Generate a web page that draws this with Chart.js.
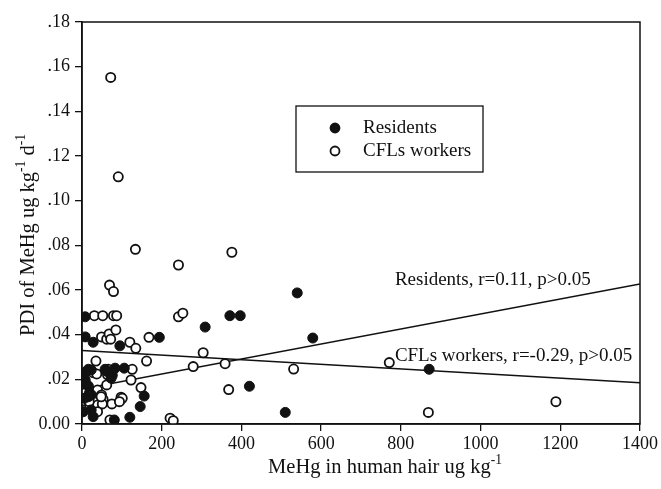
<!DOCTYPE html>
<html>
<head>
<meta charset="utf-8">
<script src="https://cdn.jsdelivr.net/npm/chart.js@4.4.1/dist/chart.umd.min.js"></script>
<style>
  html, body { margin: 0; padding: 0; background: #fff; }
  #wrap { width: 661px; height: 489px; position: relative; }
</style>
</head>
<body>
<div id="wrap"><canvas id="chart" width="661" height="489"></canvas></div>
<script>
// MeHg in hair (ug/kg) and PDI (ug/kg/d)
const residentsHair = [8, 8, 28, 95, 194, 309, 371, 397, 540, 579, 420, 510, 871, 16, 23, 58, 64, 76, 83, 106,
  10, 8, 16, 73, 10, 18, 16, 24, 6, 3, 23, 28, 81, 120, 146, 156];
const residentsPdi = [0.048, 0.039, 0.0366, 0.035, 0.0388, 0.0434, 0.0485, 0.0485, 0.0587, 0.0385, 0.0169, 0.0052, 0.0245, 0.0245, 0.0242, 0.0245, 0.0234, 0.0218, 0.025, 0.025,
  0.0234, 0.0197, 0.017, 0.0205, 0.018, 0.0137, 0.0122, 0.013, 0.0115, 0.0055, 0.0063, 0.0033, 0.0018, 0.003, 0.0078, 0.0125];

const workersHair = [72, 91, 134, 242, 376, 69, 79, 31, 52, 79, 87, 242, 253, 49, 62, 68, 72, 85, 120, 135,
  168, 304, 359, 531, 368, 771, 869, 1189, 162, 35, 279, 28, 37, 66, 126, 123, 62, 148, 39, 49,
  53, 98, 101, 3, 20, 39, 51, 75, 39, 70, 221, 229, 64, 94, 18, 48];
const workersPdi = [0.1552, 0.1107, 0.0782, 0.0712, 0.0769, 0.0622, 0.0593, 0.0485, 0.0485, 0.0485, 0.0485, 0.048, 0.0496, 0.039, 0.038, 0.0403, 0.038, 0.0421, 0.0366, 0.0339,
  0.0388, 0.0319, 0.027, 0.0246, 0.0154, 0.0275, 0.0052, 0.010, 0.0282, 0.0282, 0.0257, 0.023, 0.0224, 0.0245, 0.0245, 0.0197, 0.0175, 0.0163, 0.0152, 0.013,
  0.011, 0.012, 0.0115, 0.0104, 0.0078, 0.0085, 0.009, 0.009, 0.0055, 0.0018, 0.0026, 0.0015, 0.022, 0.010, 0.010, 0.0122];

// regression lines
const fitHair = [0, 1400];
const residentsFit = [0.0157, 0.0627];
const workersFit = [0.0329, 0.0185];

const seriesNames = ['Residents', 'CFLs workers'];
const fitLabels = ['Residents, r=0.11, p>0.05', 'CFLs workers, r=-0.29, p>0.05'];
const fitLabelAt = [[785, 0.0645], [785, 0.0305]];

const xTitle = ['MeHg in human hair ug kg', '-1'];
const yTitle = ['PDI of MeHg ug kg', '-1', ' d', '-1'];

const FONT = '"Liberation Serif", "Times New Roman", serif';

const toPts = (xs, ys) => xs.map((x, i) => ({ x: x, y: ys[i] }));

// draws text pieces where every second piece is a superscript
function drawSup(ctx, parts, size) {
  let total = 0;
  parts.forEach((p, i) => {
    ctx.font = (i % 2 ? size * 0.66 : size) + 'px ' + FONT;
    total += ctx.measureText(p).width;
  });
  let x = -total / 2;
  parts.forEach((p, i) => {
    const sup = i % 2 === 1;
    ctx.font = (sup ? size * 0.66 : size) + 'px ' + FONT;
    ctx.fillText(p, x, sup ? -size * 0.38 : 0);
    x += ctx.measureText(p).width;
  });
}

const decor = {
  id: 'decor',
  afterDraw(chart) {
    const ctx = chart.ctx;
    const a = chart.chartArea;
    const xs = chart.scales.x, ys = chart.scales.y;
    ctx.save();
    ctx.strokeStyle = '#111';
    ctx.lineWidth = 1.5;
    ctx.strokeRect(a.left, a.top, a.right - a.left, a.bottom - a.top);

    ctx.fillStyle = '#111';
    ctx.textBaseline = 'middle';
    ctx.textAlign = 'left';

    // axis titles
    ctx.save();
    ctx.translate(385, 468);
    drawSup(ctx, xTitle, 20.5);
    ctx.restore();
    ctx.save();
    ctx.translate(29, 235);
    ctx.rotate(-Math.PI / 2);
    drawSup(ctx, yTitle, 20.5);
    ctx.restore();

    // fit annotations
    ctx.font = '19px ' + FONT;
    fitLabels.forEach((t, i) => {
      ctx.fillText(t, xs.getPixelForValue(fitLabelAt[i][0]), ys.getPixelForValue(fitLabelAt[i][1]));
    });

    // legend
    ctx.lineWidth = 1.3;
    ctx.strokeRect(296, 106, 187, 66);
    seriesNames.forEach((name, i) => {
      const ds = chart.data.datasets[i];
      const cy = 128 + i * 23;
      ctx.beginPath();
      ctx.arc(335, cy, 4.5, 0, Math.PI * 2);
      ctx.fillStyle = ds.backgroundColor;
      ctx.fill();
      ctx.lineWidth = 1.8;
      ctx.strokeStyle = '#111';
      ctx.stroke();
      ctx.fillStyle = '#111';
      ctx.fillText(name, 363, cy);
    });
    ctx.restore();
  }
};

const tickFont = { family: FONT, size: 18 };

new Chart(document.getElementById('chart'), {
  type: 'scatter',
  data: {
    datasets: [
      {
        label: seriesNames[0],
        data: toPts(residentsHair, residentsPdi),
        backgroundColor: '#111',
        borderColor: '#111',
        borderWidth: 1,
        pointRadius: 5,
      },
      {
        label: seriesNames[1],
        data: toPts(workersHair, workersPdi),
        backgroundColor: '#fff',
        borderColor: '#111',
        borderWidth: 1.8,
        pointRadius: 4.6,
      },
      {
        label: 'fit1',
        data: toPts(fitHair, residentsFit),
        showLine: true,
        pointRadius: 0,
        borderColor: '#111',
        borderWidth: 1.5,
      },
      {
        label: 'fit2',
        data: toPts(fitHair, workersFit),
        showLine: true,
        pointRadius: 0,
        borderColor: '#111',
        borderWidth: 1.5,
      },
    ],
  },
  options: {
    responsive: false,
    animation: false,
    layout: { padding: { top: 22, right: 21, left: 0, bottom: 0 } },
    plugins: {
      legend: { display: false },
      tooltip: { enabled: false },
    },
    scales: {
      x: {
        type: 'linear',
        min: 0,
        max: 1400,
        afterFit: (s) => { s.height = 65; },
        ticks: { stepSize: 200, font: tickFont, color: '#111', padding: 2, maxRotation: 0, callback: (v) => String(v) },
        grid: { drawOnChartArea: false, tickLength: 7, color: '#111', lineWidth: 1.3 },
        border: { color: '#111', width: 1.5 },
      },
      y: {
        min: 0,
        max: 0.18,
        afterFit: (s) => { s.width = 82; },
        ticks: {
          stepSize: 0.02,
          font: tickFont,
          color: '#111',
          padding: 5,
          callback: (v) => {
            const r = Math.round(v * 100) / 100;
            return r === 0 ? '0.00' : r.toFixed(2).replace(/^0/, '');
          },
        },
        grid: { drawOnChartArea: false, tickLength: 7, color: '#111', lineWidth: 1.3 },
        border: { color: '#111', width: 1.5 },
      },
    },
  },
  plugins: [decor],
});
</script>
</body>
</html>
